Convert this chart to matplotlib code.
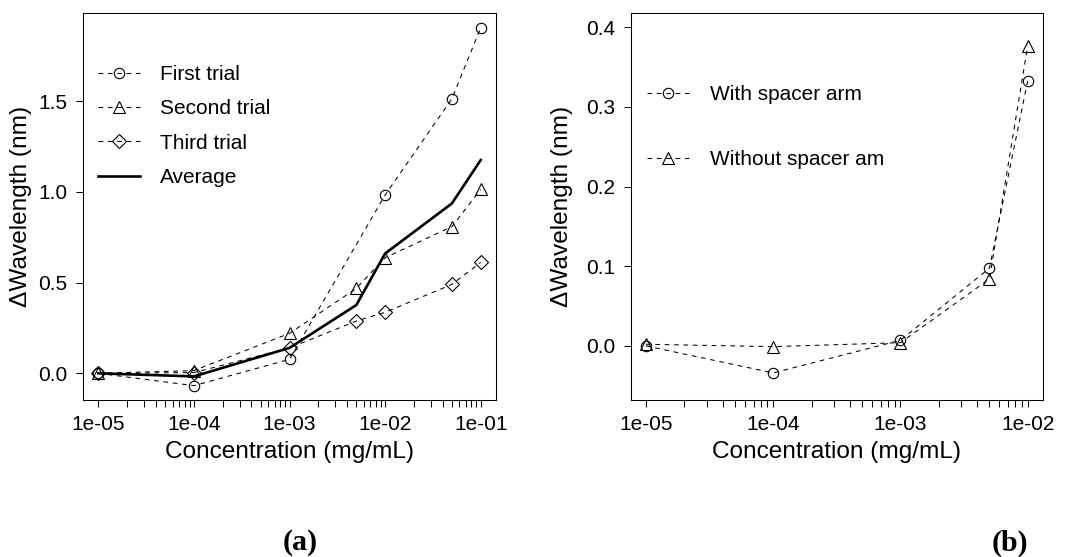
import numpy as np
import matplotlib
matplotlib.use('Agg')
import matplotlib.pyplot as plt
from matplotlib.ticker import FixedLocator, FixedFormatter, NullFormatter

plt.rcParams['font.family'] = ['Liberation Sans', 'DejaVu Sans']

# panel (a): three trials and their average
conc_a = [1e-5, 1e-4, 1e-3, 5e-3, 1e-2, 5e-2, 1e-1]
conc_first = [1e-5, 1e-4, 1e-3, 1e-2, 5e-2, 1e-1]
first_trial = [0.0, -0.068, 0.077, 0.982, 1.513, 1.904]
second_trial = [0.0, 0.015, 0.220, 0.468, 0.637, 0.808, 1.013]
third_trial = [0.0, 0.004, 0.140, 0.288, 0.336, 0.490, 0.611]
average = [0.0, -0.017, 0.140, 0.376, 0.660, 0.936, 1.175]
labels_a = ['First trial', 'Second trial', 'Third trial', 'Average']
yticks_a = [0.0, 0.5, 1.0, 1.5]

# panel (b): with / without spacer arm
conc_b = [1e-5, 1e-4, 1e-3, 5e-3, 1e-2]
with_spacer = [0.0, -0.034, 0.007, 0.0975, 0.333]
without_spacer = [0.002, -0.001, 0.004, 0.084, 0.377]
labels_b = ['With spacer arm', 'Without spacer am']
yticks_b = [0.0, 0.1, 0.2, 0.3, 0.4]

W, H = 1068, 557
fig = plt.figure(figsize=(W / 100, H / 100), dpi=100)
ax1 = fig.add_axes([83 / W, 1 - 400 / H, 413 / W, 387 / H])
ax2 = fig.add_axes([630.7 / W, 1 - 400 / H, 412.3 / W, 387 / H])

dash = dict(color='black', lw=0.75, ls=(0, (4.5, 4.5)), mfc='none', mec='black', mew=0.8)

ax1.plot(conc_first, first_trial, marker='o', ms=7.5, label=labels_a[0], **dash)
ax1.plot(conc_a, second_trial, marker='^', ms=8.5, label=labels_a[1], **dash)
ax1.plot(conc_a, third_trial, marker='D', ms=6.8, label=labels_a[2], **dash)
ax1.plot(conc_a, average, color='black', lw=1.9, label=labels_a[3])

ax2.plot(conc_b, with_spacer, marker='o', ms=7.5, label=labels_b[0], **dash)
ax2.plot(conc_b, without_spacer, marker='^', ms=8.5, label=labels_b[1], **dash)


def style_axis(ax, lo_dec, hi_dec, ylim, yticks):
    ax.set_xscale('log')
    pad = 0.04 * (hi_dec - lo_dec)
    ax.set_xlim(10 ** (lo_dec - pad), 10 ** (hi_dec + pad))
    ax.set_ylim(*ylim)
    decs = np.arange(lo_dec, hi_dec + 1)
    major = 10.0 ** decs
    minor = [m * 10.0 ** d for d in decs[:-1] for m in range(2, 10)]
    ax.xaxis.set_major_locator(FixedLocator(major))
    ax.xaxis.set_major_formatter(FixedFormatter(['1e%+03d' % d for d in decs]))
    ax.xaxis.set_minor_locator(FixedLocator(minor))
    ax.xaxis.set_minor_formatter(NullFormatter())
    ax.set_yticks(yticks)
    ax.set_yticklabels(['%.1f' % v for v in yticks])
    ax.tick_params(which='both', direction='out', length=5, width=0.75,
                   labelsize=15, pad=6)
    for s in ax.spines.values():
        s.set_linewidth(0.75)
    ax.set_xlabel('Concentration (mg/mL)', fontsize=17.6, va='top')
    ax.xaxis.set_label_coords(0.5, -41 / 387)
    ax.set_ylabel('\u0394Wavelength (nm)', fontsize=17.6)


style_axis(ax1, -5, -1, (-0.147, 1.985), yticks_a)
style_axis(ax2, -5, -2, (-0.068, 0.418), yticks_b)
ax1.yaxis.set_label_coords(-51 / 413, 0.5)
ax2.yaxis.set_label_coords(-58 / 412, 0.5)

ax1.legend(loc='upper left', bbox_to_anchor=(0.036, 0.866), frameon=False,
           fontsize=15, handlelength=2.0, handletextpad=1.0, labelspacing=0.74,
           borderpad=0, borderaxespad=0, numpoints=1)
ax2.legend(loc='upper left', bbox_to_anchor=(0.04, 0.814), frameon=False,
           fontsize=15, handlelength=2.0, handletextpad=1.0, labelspacing=2.2,
           borderpad=0, borderaxespad=0, numpoints=1)

fig.text(300 / W, 1 - 543 / H, '(a)', ha='center', va='center', fontsize=21.6,
         fontweight='bold', family=['Liberation Serif', 'DejaVu Serif'])
fig.text(1010 / W, 1 - 543 / H, '(b)', ha='center', va='center', fontsize=21.6,
         fontweight='bold', family=['Liberation Serif', 'DejaVu Serif'])

fig.savefig('out.png', dpi=100)
